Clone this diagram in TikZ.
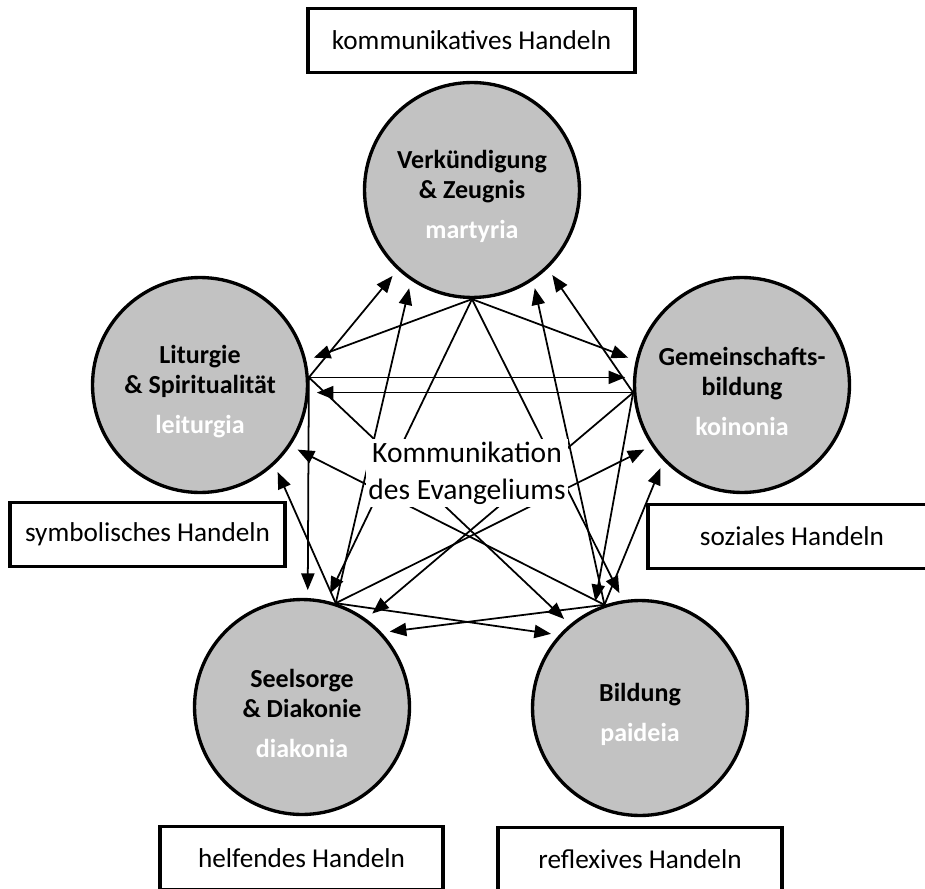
\documentclass[tikz,border=0pt]{standalone}
\usepackage{xcolor}
\usepackage{fontspec}
\setmainfont{Carlito}
\usetikzlibrary{arrows.meta}

\begin{document}
\begin{tikzpicture}[x=0.02cm,y=-0.02cm,>={Triangle[length=9.5pt,width=7.5pt]},line width=1pt,
    topic node/.style={circle,draw,line width=1.9pt,fill=gray!48,minimum size=4.3cm,inner sep=0pt,align=center,font=\fontsize{14.8}{17}\selectfont\bfseries},
    mode box/.style={rectangle,draw,line width=1.9pt,fill=white,inner sep=0pt,minimum height=1.27cm,font=\fontsize{15.5}{18}\selectfont}]
    \useasboundingbox (0,0) rectangle (925,888);
    \clip (0,0) rectangle (925,888);

    \node[topic node] (V) at (472,190) {\rule{0pt}{18pt}Verkündigung\\\& Zeugnis\\[5.8pt]\textcolor{white}{martyria}};
    \node[topic node] (L) at (200,385) {\rule{0pt}{18pt}Liturgie\\\& Spiritualität\\[5.8pt]\textcolor{white}{leiturgia}};
    \node[topic node] (G) at (742,385) {\rule{0pt}{18pt}Gemeinschafts-\\bildung\\[5.8pt]\textcolor{white}{koinonia}};
    \node[topic node] (D) at (302,707) {\rule{0pt}{18pt}Seelsorge\\\& Diakonie\\[5.8pt]\textcolor{white}{diakonia}};
    \node[topic node] (B) at (640,708) {\rule{0pt}{18pt}Bildung\\[5.8pt]\textcolor{white}{paideia}};

    \node[mode box,minimum width=6.54cm] (kom) at (471.5,40.5) {kommunikatives Handeln};
    \node[mode box,minimum width=5.5cm] (sym) at (147.5,534.5) {symbolisches Handeln};
    \node[mode box,minimum width=5.76cm] (soz) at (792,536.5) {soziales Handeln};
    \node[mode box,minimum width=5.66cm] (hel) at (301.5,858) {helfendes Handeln};
    \node[mode box,minimum width=5.68cm] (ref) at (640,859) {reflexives Handeln};

    \path[->,shorten >=4.5pt]
    (V.270) edge (L.13)
            edge (G.167)
            edge (D.77)
            edge (B.99)
    (L.4)   edge (V.227)
            edge (G.176)
            edge (D.87)
            edge (B.130)
    (G.184) edge (V.314)
            edge (L.356)
            edge (D.54)
            edge (B.115)
    (D.72)  edge (V.236)
            edge (L.313)
            edge (G.214)
            edge (B.138)
    (B.109) edge (V.304)
            edge (L.326)
            edge (G.224)
            edge (D.43);

    \node[fill=white,inner sep=1.5pt,align=center,font=\fontsize{16.8}{21}\selectfont] (kde) at (467,473) {Kommunikation\\des Evangeliums};
\end{tikzpicture}
\end{document}
